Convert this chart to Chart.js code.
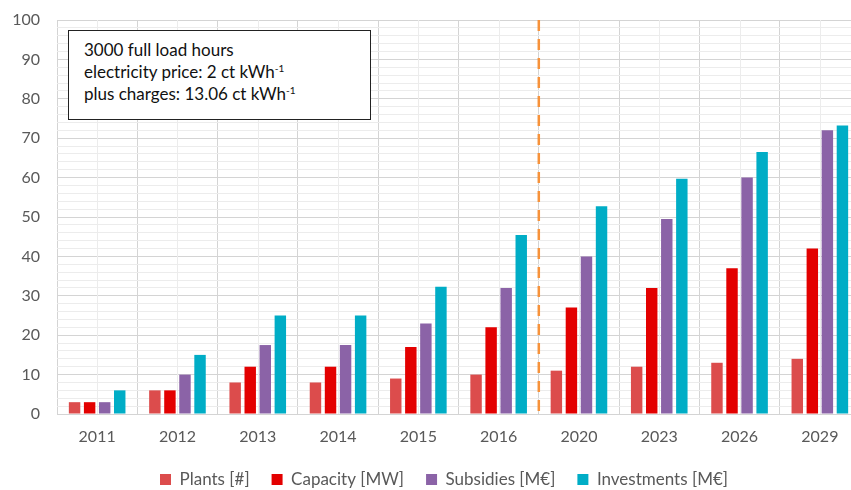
<!DOCTYPE html>
<html>
<head>
<meta charset="utf-8">
<script src="https://cdn.jsdelivr.net/npm/chart.js@4"></script>
<style>
  body { margin: 0; overflow: hidden; background: #fff; }
  #wrap { position: relative; width: 870px; height: 498px; }
  #note {
    position: absolute; left: 68px; top: 30px; width: 303px; height: 90px;
    border: 1px solid #222; background: #fff;
    font-family: Lato, sans-serif; font-size: 17px; color: #111;
    line-height: 22px; padding: 8px 0 0 15px; box-sizing: border-box;
  }
  #note sup { font-size: 10px; line-height: 0; vertical-align: 6px; }
</style>
</head>
<body>
<div id="wrap">
  <canvas id="chart" width="870" height="498"></canvas>
  <div id="note">3000 full load hours<br>electricity price: 2 ct kWh<sup>-1</sup><br>plus charges: 13.06 ct kWh<sup>-1</sup></div>
</div>
<script>
const years = ['2011', '2012', '2013', '2014', '2015', '2016', '2020', '2023', '2026', '2029'];
const plants = [3, 6, 8, 8, 9, 10, 11, 12, 13, 14];
const capacity = [3, 6, 12, 12, 17, 22, 27, 32, 37, 42];
const subsidies = [3, 10, 17.5, 17.5, 23, 32, 40, 49.5, 60, 72];
const investments = [6, 15, 25, 25, 32.3, 45.4, 52.7, 59.7, 66.5, 73.2];
const yTicks = [0, 10, 20, 30, 40, 50, 60, 70, 80, 90, 100];

// light lines through the middle of each category + the orange dashed divider
const extraLines = {
    id: 'extraLines',
    afterLayout(chart) {
        // legend sits a bit right of the canvas centre in the original
        chart.legend.left += 14;
        chart.legend.right += 14;
    },
    beforeDatasetsDraw(chart) {
        const ctx = chart.ctx, x = chart.scales.x, a = chart.chartArea;
        ctx.save();
        ctx.strokeStyle = '#ececec';
        ctx.lineWidth = 1;
        years.forEach((y, i) => {
            const px = Math.round(x.getPixelForValue(i)) + 0.5;
            ctx.beginPath();
            ctx.moveTo(px, a.top);
            ctx.lineTo(px, a.bottom);
            ctx.stroke();
        });
        ctx.restore();
    },
    afterDatasetsDraw(chart) {
        const ctx = chart.ctx, x = chart.scales.x, a = chart.chartArea;
        const px = (x.getPixelForValue(5) + x.getPixelForValue(6)) / 2;
        ctx.save();
        ctx.strokeStyle = '#f7923a';
        ctx.lineWidth = 2.5;
        ctx.setLineDash([11, 8]);
        ctx.beginPath();
        ctx.moveTo(px, a.top);
        ctx.lineTo(px, a.bottom + 5);
        ctx.stroke();
        ctx.restore();
    }
};

const bar = { categoryPercentage: 0.75, barPercentage: 0.76 };

new Chart(document.getElementById('chart'), {
    type: 'bar',
    data: {
        labels: years,
        datasets: [
            { label: 'Plants [#]', data: plants, backgroundColor: '#dc4c4c', ...bar },
            { label: 'Capacity [MW]', data: capacity, backgroundColor: '#e30000', ...bar },
            { label: 'Subsidies [M€]', data: subsidies, backgroundColor: '#8b63a7', ...bar },
            { label: 'Investments [M€]', data: investments, backgroundColor: '#00adc6', ...bar }
        ]
    },
    options: {
        responsive: false,
        animation: false,
        layout: { padding: { left: 0, right: 10, top: 20, bottom: 0 } },
        plugins: {
            tooltip: { enabled: false },
            legend: {
                position: 'bottom',
                labels: {
                    boxWidth: 11,
                    boxHeight: 11,
                    padding: 22,
                    color: '#595959',
                    font: { family: 'Lato', size: 17 }
                }
            }
        },
        scales: {
            x: {
                grid: { color: '#d4d4d4', drawTicks: false, offset: true },
                border: { color: '#d4d4d4' },
                ticks: { color: '#595959', padding: 13, font: { family: 'Lato', size: 16 } },
                afterFit(s) { s.height = 35; }
            },
            y: {
                min: 0,
                max: 100,
                grid: {
                    drawTicks: true,
                    tickLength: 17,
                    tickColor: 'rgba(0,0,0,0)',
                    color: c => (c.tick && c.tick.value % 10 === 0) ? '#d4d4d4' : '#ececec'
                },
                border: { display: false },
                ticks: {
                    stepSize: 2,
                    autoSkip: false,
                    padding: 0,
                    color: '#595959',
                    font: { family: 'Lato', size: 16 },
                    callback: v => yTicks.includes(v) ? v : ''
                },
                afterFit(s) { s.width = 57; }
            }
        }
    },
    plugins: [extraLines]
});
</script>
</body>
</html>
